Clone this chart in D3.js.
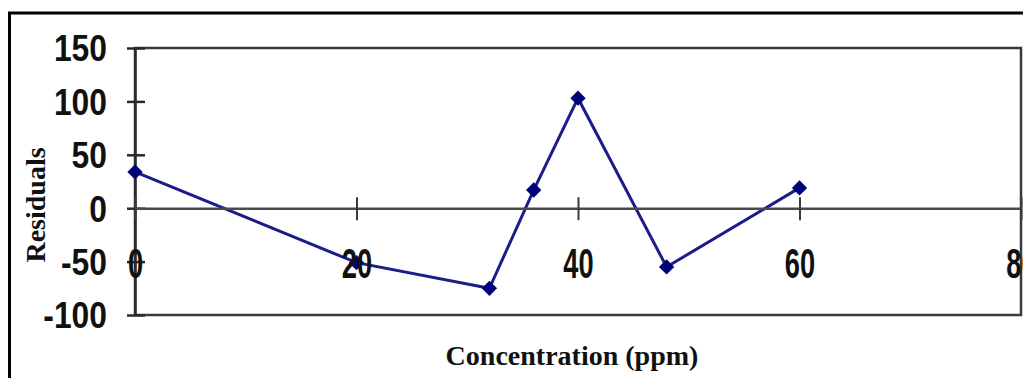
<!DOCTYPE html>
<html>
<head>
<meta charset="utf-8">
<script src="https://cdn.jsdelivr.net/npm/d3@7"></script>
<style>
  html, body { margin: 0; padding: 0; background: #fff; }
  svg { display: block; }
</style>
</head>
<body>
<svg id="chart" width="1023" height="378"></svg>
<script>
// ---- data ----
const concentration = [0, 20, 32, 36, 40, 48, 60];
const residuals = [34, -51, -75, 17, 103, -55, 19];
const xTicks = [0, 20, 40, 60, 80];
const yTicks = [-100, -50, 0, 50, 100, 150];
const xTitle = "Concentration (ppm)";
const yTitle = "Residuals";

const svg = d3.select("#chart");

// outer border
svg.append("rect")
  .attr("x", 9.5).attr("y", 13)
  .attr("width", 1040).attr("height", 420)
  .attr("fill", "none").attr("stroke", "#000").attr("stroke-width", 3);

const x = d3.scaleLinear().domain([0, 80]).range([135, 1021]);
const y = d3.scaleLinear().domain([-100, 150]).range([315, 48]);
const fmt = d => String(d);

// plot frame
svg.append("rect")
  .attr("x", x(0)).attr("y", y(150))
  .attr("width", x(80) - x(0)).attr("height", y(-100) - y(150))
  .attr("fill", "none").attr("stroke", "#3a3a3a").attr("stroke-width", 2.5);

// y axis
const gy = svg.append("g")
  .attr("transform", `translate(${x(0)},0)`)
  .call(d3.axisLeft(y).tickValues(yTicks).tickFormat(fmt).tickSizeOuter(0).tickSizeInner(8).tickPadding(0));
gy.select(".domain").attr("stroke", "#2a2a2a").attr("stroke-width", 2.5);
gy.selectAll(".tick line").attr("x1", 10).attr("x2", -8)
  .attr("stroke", "#2a2a2a").attr("stroke-width", 2.5);
gy.selectAll(".tick text")
  .attr("x", null).attr("dy", null)
  .attr("transform", "translate(-28,0) scale(0.86,1)")
  .attr("dominant-baseline", "central")
  .attr("text-anchor", "end")
  .attr("fill", "#111")
  .style("font-family", "'Liberation Sans', Arial, sans-serif")
  .style("font-weight", "bold")
  .style("font-size", "37px");

// x axis at zero
const gx = svg.append("g")
  .attr("transform", `translate(0,${y(0)})`)
  .call(d3.axisBottom(x).tickValues(xTicks).tickFormat(fmt).tickSizeOuter(0).tickSizeInner(11).tickPadding(0));
gx.select(".domain").attr("stroke", "#4a4a4a").attr("stroke-width", 2.5);
gx.selectAll(".tick line").attr("y1", -11).attr("y2", 12)
  .attr("stroke", "#3a3a3a").attr("stroke-width", 2);
gx.selectAll(".tick text")
  .attr("y", null).attr("dy", null)
  .attr("transform", "translate(0,70) scale(0.65,1)")
  .attr("text-anchor", "middle")
  .attr("fill", "#111")
  .style("font-family", "'Liberation Sans', Arial, sans-serif")
  .style("font-weight", "bold")
  .style("font-size", "42px");

// series line
const pts = concentration.map((c, i) => ({ c, r: residuals[i] }));
const line = d3.line().x(d => x(d.c)).y(d => y(d.r));
const dataG = svg.append("g");
dataG.append("path")
  .datum(pts)
  .attr("d", line)
  .attr("fill", "none")
  .attr("stroke", "#1c1c8a")
  .attr("stroke-width", 3);

// diamond markers
dataG.selectAll("path.marker")
  .data(pts)
  .join("path")
  .attr("class", "marker")
  .attr("d", d3.symbol().type(d3.symbolDiamond2).size(150))
  .attr("transform", d => `translate(${x(d.c)},${y(d.r)})`)
  .attr("fill", "#00007a");

// bring x tick labels above markers
gx.raise();

// axis titles
svg.append("text")
  .attr("x", 572).attr("y", 365)
  .attr("text-anchor", "middle")
  .attr("fill", "#111")
  .style("font-family", "'Liberation Serif', 'Times New Roman', serif")
  .style("font-weight", "bold")
  .style("font-size", "28px")
  .text(xTitle);

svg.append("text")
  .attr("transform", "translate(45,205) rotate(-90)")
  .attr("text-anchor", "middle")
  .attr("fill", "#111")
  .style("font-family", "'Liberation Serif', 'Times New Roman', serif")
  .style("font-weight", "bold")
  .style("font-size", "28px")
  .text(yTitle);
</script>
</body>
</html>
